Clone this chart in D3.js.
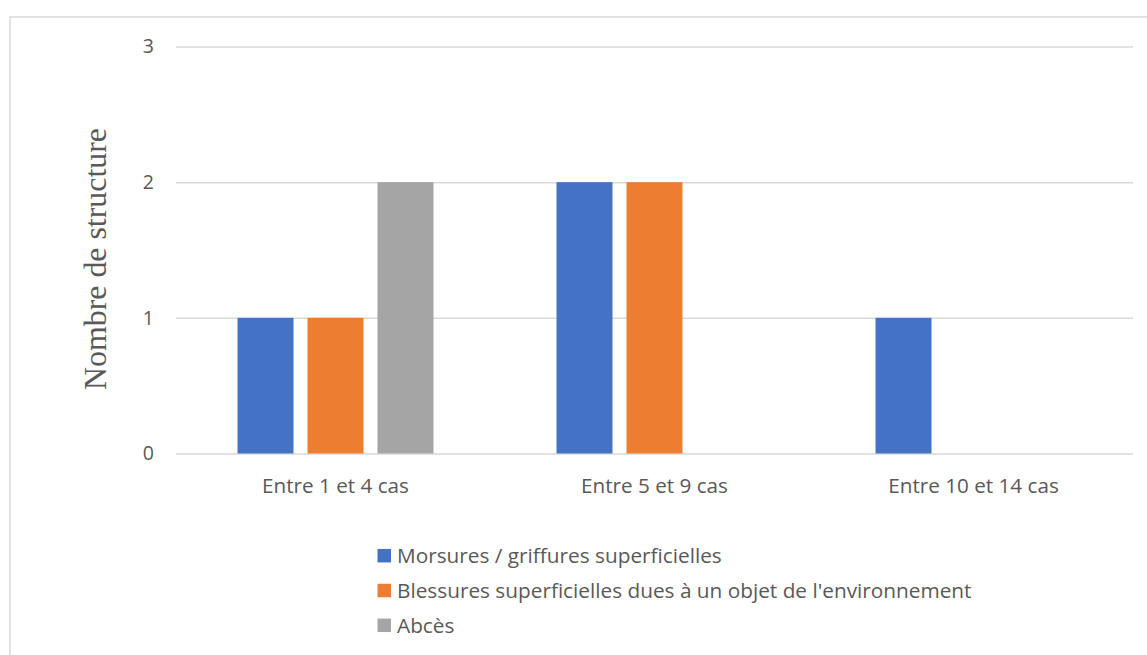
<!DOCTYPE html>
<html><head><meta charset="utf-8">
<script src="https://cdn.jsdelivr.net/npm/d3@7"></script>
<style>body{margin:0;background:#fff;}svg{display:block;}</style>
</head><body>
<svg id="c" width="1147" height="655"></svg>
<script>
const categories = ["Entre 1 et 4 cas", "Entre 5 et 9 cas", "Entre 10 et 14 cas"];
const seriesNames = ["Morsures / griffures superficielles", "Blessures superficielles dues à un objet de l'environnement", "Abcès"];
const morsures = [1, 2, 1];
const blessures = [1, 2, 0];
const abces = [2, 0, 0];
const yTicks = [0, 1, 2, 3];
const yTitle = "Nombre de structure";
const colors = ["#4472C4", "#ED7D31", "#A5A5A5"];

const seriesValues = [morsures, blessures, abces];
const svg = d3.select("#c");
const sans = "'Open Sans', sans-serif";
const serif = "'Liberation Serif', 'DejaVu Serif', serif";
const txt = "#595959";

function fitSize(text, family, target) {
  const t = svg.append("text").attr("font-family", family).attr("font-size", 100).text(text);
  const w = t.node().getComputedTextLength();
  t.remove();
  return 100 * target / w;
}
const labelSize = fitSize("Entre 1 et 4 cas", sans, 147);
const legendSize = fitSize(seriesNames[1], sans, 575);
const titleSize = fitSize(yTitle, serif, 262);

// chart border
svg.append("rect").attr("x", 10).attr("y", 17).attr("width", 1200).attr("height", 700)
  .attr("fill", "none").attr("stroke", "#D9D9D9").attr("stroke-width", 1.5);

const x = d3.scaleBand().domain(categories).range([176, 1133]).paddingInner(0).paddingOuter(0);
const xs = d3.scaleBand().domain(seriesNames).range([0, x.bandwidth()]).paddingInner(0.2).paddingOuter(0.879);
const y = d3.scaleLinear().domain([0, 3]).range([453.5, 46.5]);

// gridlines + y tick labels
const yAxis = d3.axisLeft(y).tickValues(yTicks).tickSize(-(1133 - 176)).tickFormat(d3.format("d"));
const gy = svg.append("g").attr("transform", "translate(176,0)").call(yAxis);
gy.select(".domain").remove();
gy.selectAll(".tick line").attr("stroke", "#D9D9D9").attr("stroke-width", 1.5);
gy.selectAll(".tick text").attr("x", -22).attr("fill", txt)
  .attr("font-family", sans).attr("font-size", 19.5);

// bars
const data = [];
categories.forEach((c, i) => seriesNames.forEach((s, j) => data.push({c, s, j, v: seriesValues[j][i]})));
svg.append("g").selectAll("rect").data(data.filter(d => d.v > 0)).join("rect")
  .attr("x", d => x(d.c) + xs(d.s))
  .attr("width", xs.bandwidth())
  .attr("y", d => y(d.v))
  .attr("height", d => y(0) - y(d.v))
  .attr("fill", d => colors[d.j]);

// x axis labels
const xAxis = d3.axisBottom(x).tickSize(0);
const gx = svg.append("g").attr("transform", `translate(0,${y(0)})`).call(xAxis);
gx.select(".domain").remove();
gx.selectAll(".tick text").attr("y", 0).attr("dy", "0").attr("transform", "translate(0,39.5)")
  .attr("fill", txt).attr("font-family", sans).attr("font-size", labelSize);

// y title
svg.append("text").attr("transform", "translate(106,259) rotate(-90)")
  .attr("text-anchor", "middle").attr("fill", txt)
  .attr("font-family", serif).attr("font-size", titleSize).text(yTitle);

// legend
const lg = svg.append("g");
seriesNames.forEach((s, j) => {
  const cy = 555.7 + j * 34.8;
  lg.append("rect").attr("x", 377.5).attr("y", cy - 6.75).attr("width", 13.5).attr("height", 13.5).attr("fill", colors[j]);
  lg.append("text").attr("x", 397).attr("y", cy).attr("dy", "0.35em").attr("fill", txt)
    .attr("font-family", sans).attr("font-size", legendSize).text(s);
});
</script>
</body></html>
